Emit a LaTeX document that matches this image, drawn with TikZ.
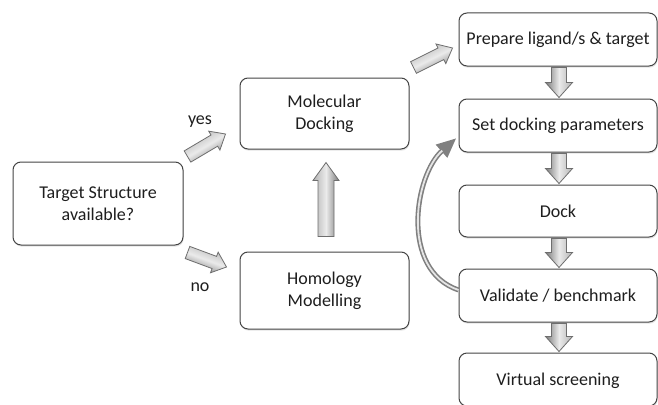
\documentclass[tikz,border=0pt]{standalone}
\usepackage{fontspec}
\setmainfont{Carlito}
\usetikzlibrary{calc,arrows.meta,shadows}
\definecolor{txt}{HTML}{1E1E1E}
\definecolor{boxline}{HTML}{444444}
\definecolor{arrline}{HTML}{6E6E6E}
\newcommand\blockarrow[6]{%
  \coordinate (#1m) at ($(#3)!#6!(#2)$);
  \pgfmathanglebetweenpoints{\pgfpointanchor{#2}{center}}{\pgfpointanchor{#3}{center}}%
  \let\baang\pgfmathresult
  \path[barrow, shading angle=\baang]
    ($(#2)!#4!90:(#3)$) -- ($(#1m)!#4!90:(#3)$) -- ($(#1m)!#5!90:(#3)$) -- (#3)
    -- ($(#1m)!#5!-90:(#3)$) -- ($(#1m)!#4!-90:(#3)$) -- ($(#2)!#4!-90:(#3)$) -- cycle;
}
\begin{document}
\begin{tikzpicture}[x=1pt,y=-1pt,
  box/.style={draw=boxline, line width=1pt, rounded corners=8pt, fill=white,
    drop shadow={opacity=0.22, shadow xshift=0.6pt, shadow yshift=-1.6pt},
    align=center, text=txt, font=\fontsize{18}{22}\selectfont, inner sep=0pt},
  lbl/.style={text=txt, font=\fontsize{18}{22}\selectfont, inner sep=0pt},
  barrow/.style={draw=arrline, line width=0.8pt, line join=miter,
    top color=black!30, bottom color=black!52, middle color=black!8},
  curveout/.style={draw=black!50, line width=5pt,
    -{Triangle[length=20pt,width=16pt]}},
  curvein/.style={draw=black!10, line width=1.8pt, shorten >=19pt}]
\useasboundingbox (0,0) rectangle (658,404);
\fill[white] (0,0) rectangle (658,404);
\begin{scope}
\clip (0,0) rectangle (658,404);
% boxes
\node[box, minimum width=170pt, minimum height=83pt] (ts) at (98,203.5) {Target Structure\\available?};
\node[box, minimum width=169pt, minimum height=71pt] (md) at (324.5,113.5) {Molecular\\Docking};
\node[box, minimum width=169pt, minimum height=77pt] (hm) at (324.5,290.5) {Homology\\Modelling};
\node[box, minimum width=198pt, minimum height=53pt] (pl) at (558,39.5) {Prepare ligand/s \& target};
\node[box, minimum width=198pt, minimum height=53pt] (sd) at (558,125.5) {Set docking parameters};
\node[box, minimum width=198pt, minimum height=52pt] (dk) at (558,211) {Dock};
\node[box, minimum width=198pt, minimum height=53pt] (vb) at (558,295.5) {Validate / benchmark};
\node[box, minimum width=198pt, minimum height=53pt, text depth=0pt] (vs) at (558,379.5) {Virtual screening};
% labels
\node[lbl] (yes) at (200,122) {yes};
\node[lbl] (no) at (200,287) {no};
% arrow end points
\coordinate (ya) at ($(ts.north east)+(4,-5)$);
\coordinate (yb) at ($(md.west)+(-14,20.5)$);
\coordinate (na) at ($(ts.south east)+(4,7)$);
\coordinate (nb) at ($(hm.west)+(-13,-23.5)$);
\coordinate (ua) at ($(hm.north)+(1.5,-15)$);
\coordinate (ub) at ($(md.south)+(1.5,13)$);
\coordinate (pa) at ($(md.north east)+(4,-10)$);
\coordinate (pb) at ($(pl.west)+(-6,8.5)$);
\coordinate (d1a) at ($(pl.south)+(1,1)$);
\coordinate (d1b) at ($(sd.north)+(1,-1)$);
\coordinate (d2a) at ($(sd.south)+(1,1)$);
\coordinate (d2b) at ($(dk.north)+(1,-1)$);
\coordinate (d3a) at ($(dk.south)+(1,1)$);
\coordinate (d3b) at ($(vb.north)+(1,-1)$);
\coordinate (d4a) at ($(vb.south)+(1,1)$);
\coordinate (d4b) at ($(vs.north)+(1,-1)$);
% block arrows
\blockarrow{yarr}{ya}{yb}{6.5pt}{11pt}{13pt}
\blockarrow{narr}{na}{nb}{6.5pt}{11pt}{13pt}
\blockarrow{uarr}{ua}{ub}{8pt}{13pt}{18pt}
\blockarrow{parr}{pa}{pb}{6.5pt}{11pt}{13pt}
\blockarrow{da}{d1a}{d1b}{7.5pt}{13.5pt}{15pt}
\blockarrow{db}{d2a}{d2b}{7.5pt}{13.5pt}{15pt}
\blockarrow{dc}{d3a}{d3b}{7.5pt}{13.5pt}{15pt}
\blockarrow{dd}{d4a}{d4b}{7.5pt}{13.5pt}{15pt}
% curved feedback arrow
\coordinate (cs) at ($(vb.west)+(0,-5.5)$);
\coordinate (ce) at ($(sd.west)+(-2,12.5)$);
\draw[curveout] (cs) .. controls +(-59,-20) and +(-42,37) .. (ce);
\draw[curvein] (cs) .. controls +(-59,-20) and +(-42,37) .. (ce);
\end{scope}
\end{tikzpicture}
\end{document}
